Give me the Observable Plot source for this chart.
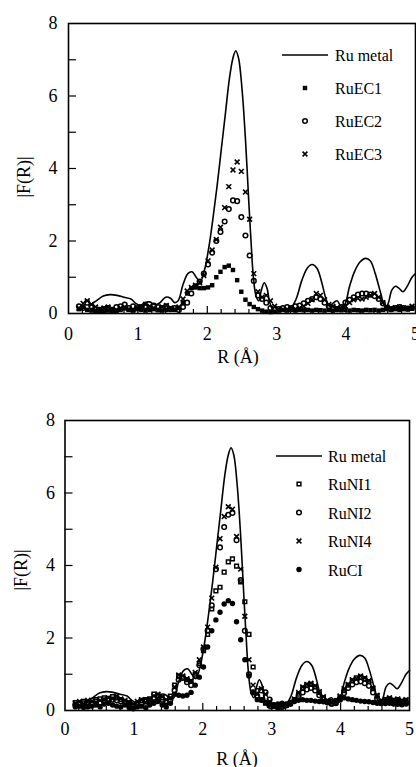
<!DOCTYPE html>
<html><head><meta charset="utf-8">
<script src="https://cdn.jsdelivr.net/npm/d3@7"></script>
<script src="https://cdn.jsdelivr.net/npm/@observablehq/plot@0.6"></script>
<style>
body{margin:0;background:#fff;}
svg{display:block;}
svg text{font-family:"Liberation Serif","DejaVu Serif",serif !important;}
</style>
</head><body><div id="chartTop"></div><div id="chartBottom"></div>
<script>
// R grid of the measured points (Å)
const R = [0.15,0.21,0.27,0.33,0.39,0.45,0.51,0.57,0.63,0.69,0.75,0.81,0.87,0.93,0.99,1.05,1.11,1.17,1.23,1.29,1.35,1.41,1.47,1.53,1.59,1.65,1.71,1.77,1.83,1.89,1.95,2.01,2.07,2.13,2.19,2.25,2.31,2.37,2.43,2.49,2.55,2.61,2.67,2.73,2.79,2.85,2.91,2.97,3.03,3.09,3.15,3.21,3.27,3.33,3.39,3.45,3.51,3.57,3.63,3.69,3.75,3.81,3.87,3.93,3.99,4.05,4.11,4.17,4.23,4.29,4.35,4.41,4.47,4.53,4.59,4.65,4.71,4.77,4.83,4.89,4.95];

// Ru metal reference curve
const metalR = [0.30,0.40,0.50,0.60,0.70,0.80,0.90,0.97,1.03,1.10,1.17,1.25,1.32,1.40,1.47,1.53,1.58,1.65,1.72,1.78,1.84,1.90,1.96,2.02,2.08,2.14,2.20,2.26,2.32,2.37,2.41,2.45,2.50,2.55,2.60,2.63,2.66,2.70,2.74,2.78,2.82,2.86,2.90,2.95,3.00,3.10,3.20,3.28,3.36,3.44,3.51,3.58,3.65,3.71,3.76,3.82,3.87,3.93,3.98,4.05,4.12,4.20,4.28,4.35,4.42,4.50,4.56,4.60,4.66,4.71,4.76,4.82,4.88,4.95,5.00];
const metalF = [0.22,0.35,0.48,0.52,0.50,0.45,0.40,0.28,0.22,0.30,0.32,0.24,0.30,0.45,0.42,0.30,0.35,0.80,1.10,1.15,1.00,0.88,1.20,1.80,2.60,3.50,4.50,5.50,6.50,7.05,7.25,7.05,6.20,4.80,3.00,2.00,1.10,0.50,0.35,0.65,0.85,0.70,0.30,0.08,0.05,0.12,0.15,0.40,0.90,1.25,1.35,1.25,0.85,0.40,0.20,0.30,0.35,0.20,0.25,0.75,1.15,1.42,1.52,1.45,1.10,0.55,0.18,0.25,0.65,0.75,0.70,0.60,0.75,1.00,1.10];

// Top panel samples
const ruEC1 = [0.12,0.18,0.10,0.08,0.06,0.05,0.06,0.08,0.07,0.06, 0.10,0.14,0.10,0.08,0.12,0.10,0.08,0.10,0.12,0.09, 0.08,0.10,0.12,0.10,0.15,0.30,0.55,0.70,0.72,0.70, 0.70,0.72,0.78,1.00,1.15,1.28,1.32,1.20,0.92,0.60, 0.38,0.26,0.18,0.12,0.08,0.05,0.04,0.05,0.08,0.10, 0.08,0.10,0.08,0.10,0.09,0.10,0.08,0.10,0.09,0.08, 0.10,0.08,0.10,0.09,0.10,0.08,0.10,0.09,0.08,0.10, 0.09,0.10,0.08,0.10,0.12,0.10,0.12,0.10,0.12,0.11,0.13];
const ruEC2 = [0.20,0.15,0.30,0.20,0.12,0.10,0.12,0.15,0.10,0.18, 0.20,0.25,0.15,0.20,0.15,0.18,0.20,0.15,0.22,0.18, 0.15,0.20,0.12,0.15,0.10,0.18,0.30,0.55,0.75,0.88, 1.10,1.35,1.68,2.00,2.25,2.54,2.88,3.12,3.10,2.66, 2.15,1.60,0.90,0.50,0.40,0.30,0.15,0.10,0.12,0.15, 0.18,0.15,0.20,0.22,0.28,0.35,0.40,0.45,0.40,0.30, 0.20,0.15,0.12,0.18,0.30,0.38,0.45,0.52,0.55,0.55, 0.52,0.48,0.40,0.28,0.15,0.12,0.15,0.18,0.15,0.14,0.16];
const ruEC3 = [0.15,0.28,0.35,0.25,0.18,0.12,0.15,0.18,0.12,0.10, 0.15,0.18,0.12,0.10,0.14,0.18,0.25,0.20,0.15,0.12, 0.18,0.22,0.15,0.12,0.18,0.40,0.62,0.72,0.78,0.85, 1.05,1.45,1.75,2.04,2.38,2.92,3.50,3.96,4.18,3.92, 3.35,2.60,1.10,0.60,0.45,0.50,0.35,0.20,0.12,0.10, 0.12,0.14,0.12,0.15,0.20,0.28,0.38,0.55,0.50,0.38, 0.25,0.20,0.15,0.14,0.20,0.30,0.38,0.42,0.40,0.45, 0.50,0.55,0.45,0.30,0.18,0.14,0.16,0.18,0.15,0.14,0.20];

// Bottom panel samples
const ruNI1 = [0.22,0.20,0.25,0.22,0.28,0.30,0.32,0.35,0.30,0.38, 0.35,0.30,0.25,0.22,0.15,0.20,0.28,0.30,0.32,0.45, 0.42,0.35,0.25,0.40,0.70,0.95,0.92,0.85,0.80,1.00, 1.30,1.65,2.10,2.80,3.30,3.40,3.82,4.10,4.18,3.98, 3.55,3.00,2.10,1.20,0.55,0.30,0.20,0.15,0.12,0.10, 0.12,0.15,0.20,0.30,0.45,0.62,0.70,0.72,0.65,0.50, 0.35,0.25,0.20,0.22,0.35,0.55,0.70,0.82,0.90,0.92, 0.88,0.80,0.60,0.40,0.25,0.30,0.32,0.28,0.30,0.25,0.28];
const ruNI2 = [0.15,0.18,0.20,0.15,0.20,0.25,0.22,0.28,0.32,0.30, 0.28,0.25,0.22,0.18,0.12,0.15,0.22,0.25,0.28,0.35, 0.38,0.30,0.22,0.30,0.55,0.85,0.90,0.78,0.70,0.95, 1.25,1.70,2.20,2.90,3.90,4.50,5.06,5.40,5.45,4.70, 3.60,2.20,1.00,0.50,0.40,0.55,0.50,0.30,0.15,0.10, 0.10,0.14,0.18,0.28,0.40,0.50,0.58,0.62,0.55,0.42, 0.30,0.22,0.18,0.20,0.30,0.48,0.62,0.72,0.78,0.80, 0.75,0.68,0.50,0.32,0.20,0.22,0.25,0.20,0.22,0.18,0.20];
const ruNI4 = [0.20,0.25,0.18,0.28,0.25,0.22,0.28,0.30,0.35,0.32, 0.40,0.32,0.28,0.20,0.18,0.25,0.30,0.22,0.30,0.40, 0.45,0.38,0.30,0.35,0.65,0.98,0.95,0.88,0.82,1.05, 1.40,1.75,2.30,3.10,3.95,4.74,5.35,5.62,5.55,4.80, 3.90,2.60,1.40,0.70,0.45,0.60,0.45,0.25,0.12,0.10, 0.12,0.15,0.20,0.32,0.50,0.65,0.72,0.75,0.68,0.52, 0.38,0.28,0.22,0.25,0.40,0.60,0.72,0.85,0.88,0.95, 0.90,0.82,0.62,0.42,0.28,0.32,0.35,0.30,0.32,0.28,0.30];
const ruCI = [0.10,0.12,0.08,0.10,0.12,0.15,0.10,0.18,0.20,0.15, 0.12,0.10,0.15,0.08,0.05,0.10,0.12,0.08,0.15,0.20, 0.25,0.15,0.10,0.20,0.45,0.42,0.40,0.42,0.50,0.70, 0.92,1.20,1.75,2.20,2.50,2.71,2.94,3.03,2.95,2.45, 1.95,1.40,0.95,0.50,0.30,0.28,0.22,0.18,0.15,0.18, 0.20,0.18,0.22,0.25,0.28,0.30,0.28,0.28,0.26,0.25, 0.24,0.22,0.25,0.28,0.30,0.35,0.32,0.30,0.28,0.26, 0.25,0.24,0.22,0.20,0.20,0.19,0.20,0.18,0.17,0.16,0.18];

// Tick values
const xLabels = [0,1,2,3,4,5];
const yLabels = [0,2,4,6,8];
const xMajor = [1,2,3,4];
const xMinor = [0.2,0.4,0.6,0.8,1.2,1.4,1.6,1.8,2.2,2.4,2.6,2.8,3.2,3.4,3.6,3.8,4.2,4.4,4.6,4.8];
const yTicks = [1,2,3,4,5,6,7];

const FONT = "Liberation Serif";
const metal = metalR.map((r, i) => ({R: r, F: metalF[i]}));
const series = (vals) => R.map((r, i) => ({R: r, F: vals[i]}));

const ST = {
  fsq: {symbol: "square", fill: "black", stroke: "none", r: 2.5},
  osq: {symbol: "square", fill: "none", stroke: "black", strokeWidth: 1.5, r: 2.1},
  oci: {symbol: "circle", fill: "none", stroke: "black", strokeWidth: 1.5, r: 2.3},
  tim: {symbol: "times", fill: "none", stroke: "black", strokeWidth: 1.6, r: 2.3},
  fci: {symbol: "circle", fill: "black", stroke: "none", r: 2.7}
};
const d3sym = {square: d3.symbolSquare, circle: d3.symbolCircle, times: d3.symbolTimes};

function chart({height, mt, mb, ml, mr, tickPad, yPad, sets}) {
  return Plot.plot({
    width: 416, height, marginTop: mt, marginBottom: mb, marginLeft: ml, marginRight: mr,
    x: {domain: [0, 5]}, y: {domain: [0, 8]},
    style: {fontFamily: FONT, fontSize: "18px", background: "white", color: "black", overflow: "visible"},
    marks: [
      Plot.axisX({ticks: xLabels, tickFormat: d => String(d), tickSize: 0, tickPadding: tickPad, label: null, fontSize: 18, fontFamily: FONT}),
      Plot.axisY({ticks: yLabels, tickFormat: d => String(d), tickSize: 0, tickPadding: yPad, label: null, fontSize: 18, fontFamily: FONT}),
      Plot.ruleX(xMinor, {x: d => d, y1: 0, y2: 0, insetTop: -4, stroke: "black", strokeWidth: 1.2}),
      Plot.ruleX(xMajor, {x: d => d, y1: 0, y2: 0, insetTop: -7, stroke: "black", strokeWidth: 1.2}),
      Plot.ruleY(yTicks, {y: d => d, x1: 0, x2: 0, insetRight: -8, stroke: "black", strokeWidth: 1.2}),
      ...sets.map(s => Plot.dot(series(s.values), {x: "R", y: "F", ...s.style})),
      Plot.line(metal, {x: "R", y: "F", curve: "catmull-rom", stroke: "black", strokeWidth: 1.6}),
      Plot.frame({stroke: "black", strokeWidth: 1.6})
    ]
  });
}

function decorate(svg, {xTitle, yTitle, leg}) {
  const s = d3.select(svg);
  s.append("text").attr("x", xTitle[0]).attr("y", xTitle[1]).attr("text-anchor", "middle")
    .attr("font-size", 18).text("R (Å)");
  s.append("text").attr("transform", `translate(${yTitle[0]},${yTitle[1]}) rotate(-90)`).attr("text-anchor", "middle")
    .attr("font-size", 18).text("|F(R)|");
  const g = s.append("g").attr("font-size", 16).attr("text-anchor", "start");
  g.append("line").attr("x1", leg.lx1).attr("x2", leg.lx2).attr("y1", leg.ly).attr("y2", leg.ly)
    .attr("stroke", "black").attr("stroke-width", 1.6);
  g.append("text").attr("x", leg.tx).attr("y", leg.ly + 6).text("Ru metal");
  leg.items.forEach((it, k) => {
    const y = leg.y0 + k * leg.dy;
    const st = it.style;
    g.append("path").attr("transform", `translate(${leg.mx},${y})`)
      .attr("d", d3.symbol(d3sym[st.symbol], Math.PI * st.r * st.r)())
      .attr("fill", st.fill).attr("stroke", st.stroke).attr("stroke-width", st.strokeWidth || 0);
    g.append("text").attr("x", leg.tx).attr("y", y + 6).text(it.name);
  });
}

const topSets = [
  {name: "RuEC1", values: ruEC1, style: ST.fsq},
  {name: "RuEC2", values: ruEC2, style: ST.oci},
  {name: "RuEC3", values: ruEC3, style: ST.tim}
];
const botSets = [
  {name: "RuNI1", values: ruNI1, style: ST.osq},
  {name: "RuNI2", values: ruNI2, style: ST.oci},
  {name: "RuNI4", values: ruNI4, style: ST.tim},
  {name: "RuCI", values: ruCI, style: ST.fci}
];

const svgTop = chart({height: 380, mt: 23, mb: 67, ml: 68, mr: 1, tickPad: 14, yPad: 11, sets: topSets});
decorate(svgTop, {xTitle: [238, 363], yTitle: [30, 177],
  leg: {lx1: 282, lx2: 328, ly: 55, tx: 335, mx: 305, y0: 88, dy: 33, items: topSets}});
document.getElementById("chartTop").append(svgTop);

const svgBot = chart({height: 387, mt: 40, mb: 57, ml: 64.5, mr: 7, tickPad: 12, yPad: 10, sets: botSets});
decorate(svgBot, {xTitle: [237, 385], yTitle: [27, 190],
  leg: {lx1: 276, lx2: 322, ly: 76, tx: 328, mx: 299, y0: 104, dy: 28.5, items: botSets}});
document.getElementById("chartBottom").append(svgBot);
</script>
</body></html>
